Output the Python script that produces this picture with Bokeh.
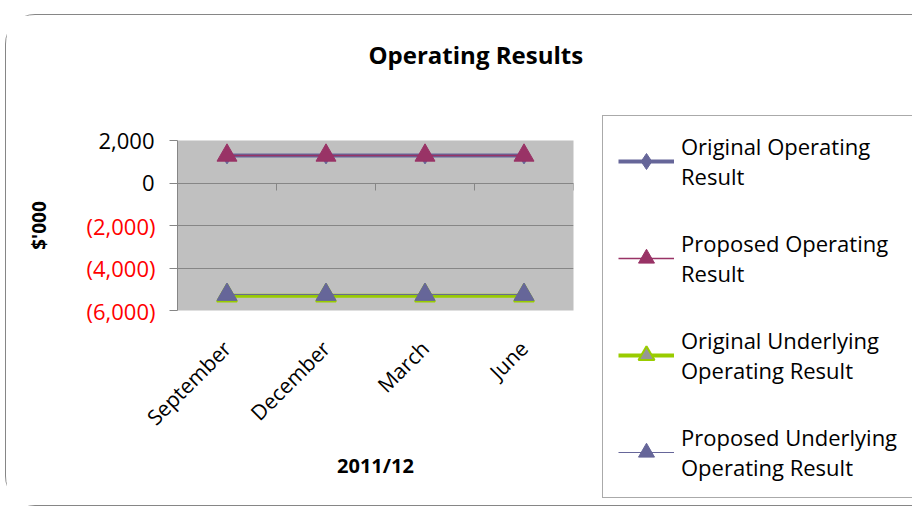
from math import pi
from bokeh.plotting import figure
from bokeh.models import (Range1d, FixedTicker, LinearAxis, NumeralTickFormatter,
                          Legend, LegendItem)
from bokeh.embed import file_html
from bokeh.resources import INLINE

# ---- data ----
categories = ["September", "December", "March", "June"]
original_operating = [1300, 1300, 1300, 1300]
proposed_operating = [1300, 1300, 1300, 1300]
original_underlying = [-5300, -5300, -5300, -5300]
proposed_underlying = [-5250, -5250, -5250, -5250]
y_ticks = [-6000, -4000, -2000, 0, 2000]
y_ticks_positive = [0, 2000]
series_names = ["Original Operating\nResult", "Proposed Operating\nResult",
                "Original Underlying\nOperating Result", "Proposed Underlying\nOperating Result"]

x = [i + 0.5 for i in range(len(categories))]
boundaries = list(range(len(categories) + 1))

FONT = "Open Sans"
GRAY = "#868686"

p = figure(frame_width=396, frame_height=170, output_backend="svg", toolbar_location=None,
           x_range=Range1d(0, len(categories)), y_range=Range1d(-6000, 2000),
           min_border_left=171, min_border_right=336, min_border_top=123, min_border_bottom=195,
           margin=(14, 0, 0, 5),
           styles={"border": "1.5px solid #868686", "border-radius": "30px"})
p.background_fill_color = "#C0C0C0"
p.border_fill_color = "white"
p.outline_line_color = None
p.xgrid.visible = False
p.ygrid.ticker = FixedTicker(ticks=y_ticks)
p.ygrid.grid_line_color = GRAY
p.ygrid.grid_line_width = 1

# title (second empty line lifts it higher above the frame)
p.title.text = "Operating Results\n"
p.title.align = "left"
p.title.vertical_align = "bottom"
p.title.offset = 191
p.title.standoff = 40
p.title.text_line_height = 1.5
p.title.text_font = FONT
p.title.text_font_style = "bold"
p.title.text_font_size = "24px"
p.title.text_color = "black"

# category labels axis (bottom)
xa = p.xaxis[0]
xa.ticker = FixedTicker(ticks=x)
xa.major_label_overrides = {xi: c for xi, c in zip(x, categories)}
xa.major_label_orientation = pi / 4
xa.axis_line_color = None
xa.major_tick_line_color = None
xa.minor_tick_line_color = None
xa.major_tick_out = 0
xa.major_tick_in = 0
xa.major_label_standoff = 34
xa.major_label_text_font = FONT
xa.major_label_text_font_size = "21px"
xa.major_label_text_color = "black"
xa.axis_label = "2011/12"
xa.axis_label_text_font = FONT
xa.axis_label_text_font_style = "bold"
xa.axis_label_text_font_size = "20px"
xa.axis_label_text_color = "black"
xa.axis_label_standoff = 8

# axis line at zero with boundary ticks
xb = LinearAxis(ticker=FixedTicker(ticks=boundaries), fixed_location=0)
xb.major_label_text_font_size = "0px"
xb.major_tick_in = 0
xb.major_tick_out = 7
xb.axis_line_color = GRAY
xb.major_tick_line_color = GRAY
xb.minor_tick_line_color = None
p.add_layout(xb, "below")

# y axis: red labels for negatives (blank for non-negative)
ya = p.yaxis[0]
ya.ticker = FixedTicker(ticks=y_ticks)
ya.formatter = NumeralTickFormatter(format="(0,0)")
ya.major_label_overrides = {v: "" for v in y_ticks_positive}
ya.major_label_text_color = "#FF0000"
ya.axis_label = "$'000"
ya.axis_label_text_font = FONT
ya.axis_label_text_font_style = "bold"
ya.axis_label_text_font_size = "19px"
ya.axis_label_text_color = "black"
ya.axis_label_standoff = 32
# black labels for non-negative, pulled back next to the frame
yb = LinearAxis(ticker=FixedTicker(ticks=y_ticks_positive),
                formatter=NumeralTickFormatter(format="(0,0)"))
yb.major_label_text_color = "black"
yb.axis_line_color = None
yb.major_tick_line_color = None
yb.major_tick_out = 0
yb.major_tick_in = 0
yb.major_label_standoff = -132
p.add_layout(yb, "left")
for ax in (ya, yb):
    ax.major_label_text_font = FONT
    ax.major_label_text_font_size = "22px"
    ax.minor_tick_line_color = None
ya.axis_line_color = GRAY
ya.major_tick_line_color = GRAY
ya.major_tick_out = 8
ya.major_tick_in = 0
ya.major_label_standoff = 14

# series
l1 = p.line(x, original_operating, line_color="#666699", line_width=4)
s1 = p.scatter(x, original_operating, marker="diamond", size=17,
               fill_color="#666699", line_color="#666699")
l2 = p.line(x, proposed_operating, line_color="#993366", line_width=1.5)
s2 = p.scatter(x, proposed_operating, marker="triangle", size=20,
               fill_color="#993366", line_color="#993366")
l3 = p.line(x, original_underlying, line_color="#99CC00", line_width=4)
s3 = p.scatter(x, original_underlying, marker="triangle", size=20,
               fill_color="#969696", line_color="#99CC00", line_width=2)
l4 = p.line(x, proposed_underlying, line_color="#666699", line_width=1)
s4 = p.scatter(x, proposed_underlying, marker="triangle", size=20,
               fill_color="#666699", line_color="#666699")

legend = Legend(items=[LegendItem(label=series_names[0], renderers=[l1, s1]),
                       LegendItem(label=series_names[1], renderers=[l2, s2]),
                       LegendItem(label=series_names[2], renderers=[l3, s3]),
                       LegendItem(label=series_names[3], renderers=[l4, s4])],
                location=(29, -188))
legend.label_text_font = FONT
legend.label_text_font_size = "22px"
legend.label_text_color = "black"
legend.label_text_line_height = 1.4
legend.glyph_width = 56
legend.glyph_height = 40
legend.label_standoff = 7
legend.padding = 15
legend.spacing = 37
legend.margin = 0
legend.border_line_color = "#555555"
legend.border_line_width = 1
legend.background_fill_color = "white"
legend.background_fill_alpha = 1
p.add_layout(legend, "right")

open("out.html", "w").write(file_html(p, INLINE))
